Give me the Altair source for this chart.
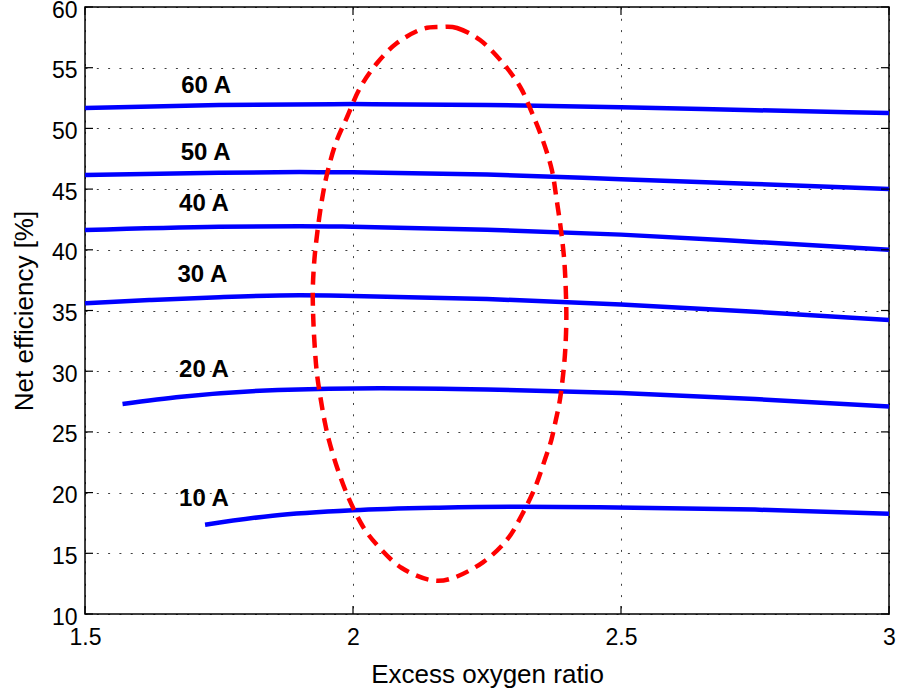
import altair as alt
import pandas as pd

# ---- data ----
x_60 = [1.5, 1.75, 2.0, 2.25, 2.5, 2.75, 3.0]
y_60 = [51.68, 51.92, 52.0, 51.93, 51.75, 51.5, 51.27]
x_50 = [1.5, 1.75, 1.9, 2.0, 2.25, 2.5, 2.75, 3.0]
y_50 = [46.16, 46.35, 46.4, 46.38, 46.2, 45.82, 45.42, 45.0]
x_40 = [1.5, 1.75, 1.9, 2.0, 2.25, 2.5, 2.75, 3.0]
y_40 = [41.63, 41.9, 41.95, 41.9, 41.65, 41.25, 40.65, 40.0]
x_30 = [1.5, 1.62, 1.75, 1.9, 2.0, 2.25, 2.5, 2.75, 3.0]
y_30 = [35.6, 35.86, 36.1, 36.25, 36.2, 35.95, 35.5, 34.9, 34.22]
x_20 = [1.57, 1.68, 1.86, 2.05, 2.25, 2.5, 2.75, 3.0]
y_20 = [27.3, 27.9, 28.45, 28.6, 28.5, 28.2, 27.7, 27.1]
x_10 = [1.724, 1.85, 2.0, 2.16, 2.31, 2.46, 2.75, 3.0]
y_10 = [17.35, 18.1, 18.55, 18.76, 18.84, 18.8, 18.6, 18.25]

series_names = ["60 A", "50 A", "40 A", "30 A", "20 A", "10 A"]
series_x = [x_60, x_50, x_40, x_30, x_20, x_10]
series_y = [y_60, y_50, y_40, y_30, y_20, y_10]

label_text = ["60 A", "50 A", "40 A", "30 A", "20 A", "10 A"]
label_x = [1.726, 1.725, 1.722, 1.719, 1.722, 1.722]
label_y = [53.5, 47.95, 43.8, 37.9, 30.1, 19.5]

# dashed ellipse outline, traced clockwise from its top
ellipse_x = [2.162, 2.194, 2.237, 2.278, 2.312, 2.334, 2.354, 2.371, 2.380,
             2.388, 2.394, 2.397, 2.398, 2.396, 2.392, 2.386, 2.378, 2.370,
             2.359, 2.340, 2.315, 2.287, 2.243, 2.187, 2.144, 2.091, 2.050,
             2.019, 1.991, 1.970, 1.955, 1.947, 1.940, 1.933, 1.929, 1.926,
             1.925, 1.928, 1.934, 1.942, 1.952, 1.968, 1.989, 2.013, 2.045,
             2.082, 2.127]
ellipse_y = [58.35, 58.27, 57.28, 55.47, 53.41, 51.27, 49.04, 46.57, 44.10,
             41.63, 39.20, 36.69, 34.20, 31.75, 29.70, 27.63, 25.90, 24.33,
             22.85, 20.46, 18.16, 16.10, 14.28, 12.97, 12.80, 13.79, 15.44,
             17.17, 19.64, 22.11, 24.33, 25.90, 27.63, 29.70, 31.75, 34.20,
             36.69, 39.20, 41.63, 44.10, 46.33, 48.80, 50.94, 53.33, 55.39,
             57.03, 58.15]

x_ticks = [1.5, 2.0, 2.5, 3.0]
y_ticks = [10, 15, 20, 25, 30, 35, 40, 45, 50, 55, 60]

# ---- tables ----
rows = []
for name, xs, ys in zip(series_names, series_x, series_y):
    for a, b in zip(xs, ys):
        rows.append({"series": name, "x": a, "y": b})
curves = pd.DataFrame(rows)
labels = pd.DataFrame({"text": label_text, "x": label_x, "y": label_y})
ellipse = pd.DataFrame({"i": list(range(len(ellipse_x))), "x": ellipse_x, "y": ellipse_y})
xt = pd.DataFrame({"x": x_ticks})
yt = pd.DataFrame({"y": y_ticks})

W, H = 804, 607
FONT = "Liberation Sans"

xscale = alt.Scale(domain=[1.5, 3.0], nice=False, zero=False)
yscale = alt.Scale(domain=[10, 60], nice=False, zero=False)

xaxis = alt.Axis(values=x_ticks, format="~g", title="Excess oxygen ratio",
                 grid=True, ticks=False, domain=False, labelFlush=False,
                 labelPadding=12, labelFontSize=23, labelFont=FONT, labelColor="black",
                 titleFont=FONT, titleFontSize=26, titleFontWeight="normal", titleColor="black",
                 titleBaseline="alphabetic", titleY=68,
                 gridColor="#000000", gridDash=[2, 9.3], gridWidth=1, gridOpacity=0.75)
yaxis = alt.Axis(values=y_ticks, format="~g", title="Net efficiency [%]",
                 grid=True, ticks=False, domain=False, labelFlush=False,
                 labelPadding=8, labelOffset=3, labelFontSize=23, labelFont=FONT, labelColor="black",
                 titleFont=FONT, titleFontSize=26, titleFontWeight="normal", titleColor="black",
                 titleBaseline="alphabetic", titleX=-53,
                 gridColor="#000000", gridDash=[2, 9.3], gridWidth=1, gridOpacity=0.75)

lines = alt.Chart(curves).mark_line(strokeWidth=4.5, interpolate="monotone", color="#0000FF").encode(
    x=alt.X("x:Q", scale=xscale, axis=xaxis),
    y=alt.Y("y:Q", scale=yscale, axis=yaxis),
    detail="series:N",
)

ell = alt.Chart(ellipse).mark_line(strokeWidth=4.5, color="#FF0000", strokeDash=[13, 8],
                                   interpolate="cardinal-closed").encode(
    x=alt.X("x:Q", scale=xscale),
    y=alt.Y("y:Q", scale=yscale),
    order="i:Q",
)

txt = alt.Chart(labels).mark_text(font=FONT, fontSize=24, fontWeight="bold", color="black",
                                  align="center", baseline="middle").encode(
    x=alt.X("x:Q", scale=xscale),
    y=alt.Y("y:Q", scale=yscale),
    text="text:N",
)

tick_style = dict(color="black", strokeWidth=1.2)
xt_bottom = alt.Chart(xt).mark_rule(**tick_style).encode(
    x=alt.X("x:Q", scale=xscale), y=alt.value(H), y2=alt.value(H - 8))
xt_top = alt.Chart(xt).mark_rule(**tick_style).encode(
    x=alt.X("x:Q", scale=xscale), y=alt.value(0), y2=alt.value(8))
yt_left = alt.Chart(yt).mark_rule(**tick_style).encode(
    y=alt.Y("y:Q", scale=yscale), x=alt.value(0), x2=alt.value(8))
yt_right = alt.Chart(yt).mark_rule(**tick_style).encode(
    y=alt.Y("y:Q", scale=yscale), x=alt.value(W), x2=alt.value(W - 8))

chart = alt.layer(lines, ell, txt, xt_bottom, xt_top, yt_left, yt_right).properties(
    width=W, height=H,
    autosize=alt.AutoSizeParams(type="none"),
    padding={"left": 85, "top": 7, "right": 10, "bottom": 75},
    background="white",
).configure_view(stroke="black", strokeWidth=1.5)

chart.save("out.html", embed_options={"renderer": "svg", "actions": False})
